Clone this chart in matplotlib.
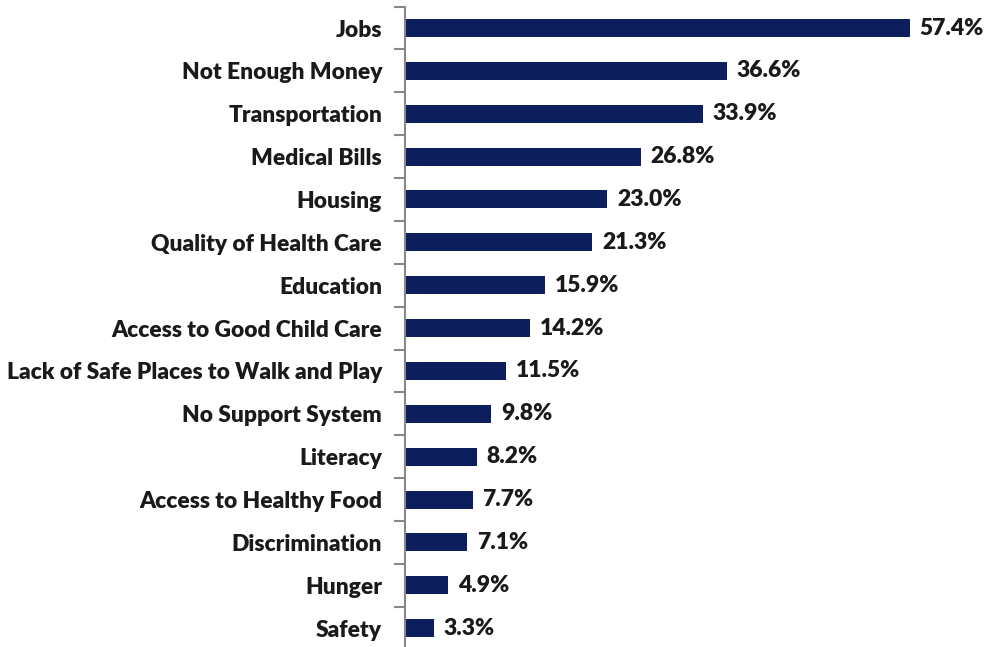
import matplotlib.pyplot as plt
import numpy as np

# Share of respondents naming each issue
issues = ['Jobs', 'Not Enough Money', 'Transportation', 'Medical Bills', 'Housing',
          'Quality of Health Care', 'Education', 'Access to Good Child Care',
          'Lack of Safe Places to Walk and Play', 'No Support System', 'Literacy',
          'Access to Healthy Food', 'Discrimination', 'Hunger', 'Safety']
percent = [57.4, 36.6, 33.9, 26.8, 23.0, 21.3, 15.9, 14.2, 11.5, 9.8, 8.2, 7.7, 7.1, 4.9, 3.3]

plt.rcParams['font.family'] = ['Lato', 'DejaVu Sans']

fig = plt.figure(figsize=(9.89, 6.47), dpi=100)
ax = fig.add_axes([0.4095, -0.004, 0.578, 0.9938])

y = np.arange(len(issues))
ax.barh(y, percent, height=0.42, color='#0C1F5C')
for yi, v in zip(y, percent):
    ax.text(v + 1.1, yi, f'{v:.1f}%', va='center', ha='left',
            fontsize=16.5, fontweight='heavy', color='#1a1a1a')

ax.set_ylim(len(issues) - 0.5, -0.5)
ax.set_xlim(0, 65)
ax.set_yticks(y)
ax.set_yticklabels(issues, fontsize=16.4, fontweight='heavy', color='#1a1a1a')
ax.set_yticks(np.arange(-0.5, len(issues), 1), minor=True)
ax.tick_params(axis='y', which='major', length=0, pad=16.5)
ax.tick_params(axis='y', which='minor', length=8, width=1.5, color='#888888')
ax.set_xticks([])

for s in ['top', 'right', 'bottom']:
    ax.spines[s].set_visible(False)
ax.spines['left'].set_color('#888888')
ax.spines['left'].set_linewidth(1.5)

fig.savefig('out.png', dpi=100)
